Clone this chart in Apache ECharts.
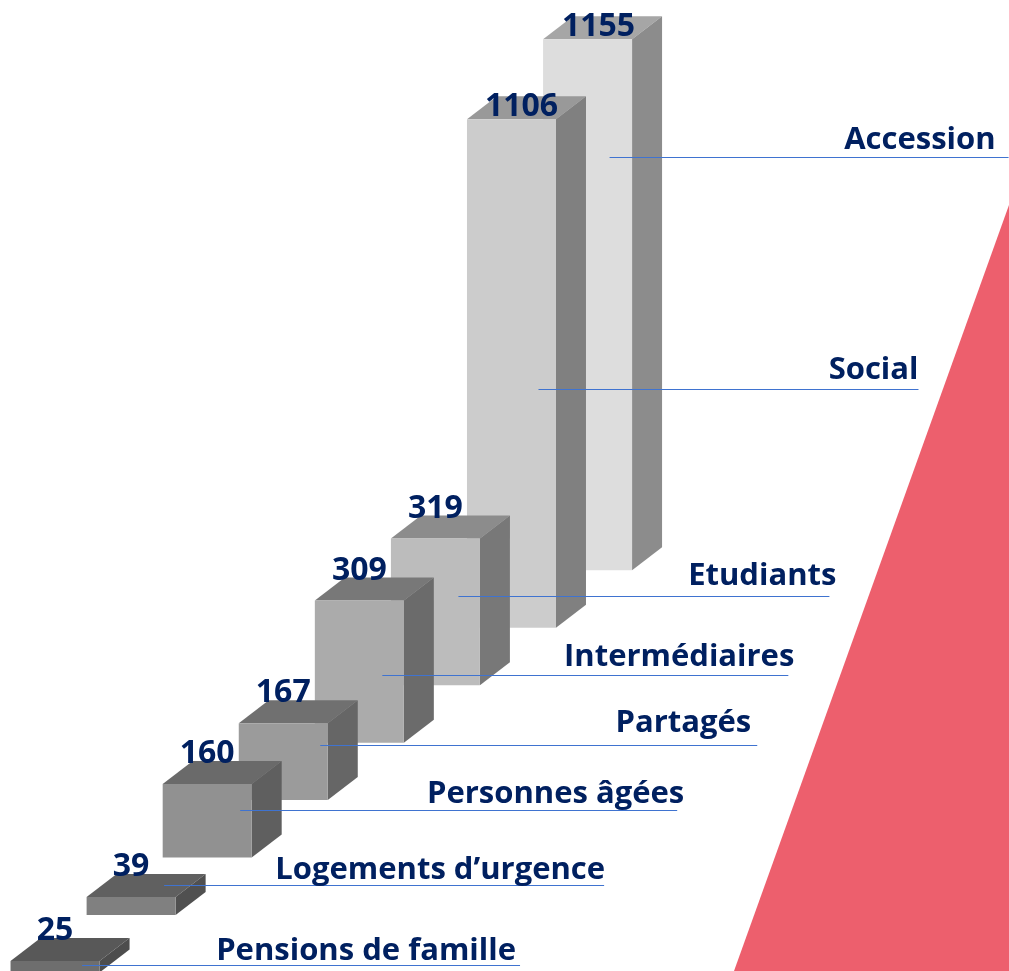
<!DOCTYPE html>
<html><head><meta charset="utf-8">
<style>html,body{margin:0;padding:0;background:#fff}#c{width:1009px;height:971px}</style>
<script src="https://cdn.jsdelivr.net/npm/echarts@6/dist/echarts.min.js"></script>
</head><body><div id="c"></div>
<script>
const categories = ['Pensions de famille','Logements d’urgence','Personnes âgées','Partagés','Intermédiaires','Etudiants','Social','Accession'];
const values = [25,39,160,167,309,319,1106,1155];
// Palette per bar
const frontColors = ['#6e6e6e','#808080','#919191','#9b9b9b','#ababab','#bcbcbc','#cccccc','#dddddd'];
const topColors   = ['#585858','#606060','#6a6a6a','#707070','#787878','#8c8c8c','#999999','#a6a6a6'];
const sideColors  = ['#4d4d4d','#505050','#5f5f5f','#666666','#6b6b6b','#787878','#808080','#8c8c8c'];
// Layout (not data): perspective and annotation placement
const FLOOR_START = -3.3, FLOOR_STEP = 125, BAR_W = 89, DEPTH_X = 30, DEPTH_Y = 23;
const leaderLevels = [13,187,350,492,644,816,1266,1771];      // y-axis level of each leader line
const leaderStart  = [27,33,33,37,23,23,27,22];               // px from band centre
const leaderEnd    = [465,473,470,474,429,394,407,421];       // px from band centre
const labelRight   = [461,474,477,468,435,401,407,408];       // px from band centre
const labelRaise   = [4,5,6,12,8,10,9,7];                     // baseline above leader line, px
const valueShift   = [[0,-19],[0,-19],[0,-19],[0,-19],[0,-19],[0,-19],[10,-1],[11,-1]];
const BASE_DESC = 5;                                          // text box bottom below baseline, px
const TEXT_COLOR = '#002060', LINE_COLOR = '#3f73d0', FONT = '"Open Sans"';

const chart = echarts.init(document.getElementById('c'));
const idx = categories.map((_, i) => i);
chart.setOption({
  animation: false,
  backgroundColor: '#fff',
  grid: {left: 17, width: 608.6, top: 5.6, bottom: 0},
  xAxis: {type: 'category', data: categories, show: false},
  yAxis: {type: 'value', min: 0, max: 2100, interval: 300, show: false},
  graphic: [{type: 'polygon', z: 0, silent: true,
    shape: {points: [[1009,205],[1009,971],[734,971]]}, style: {fill: '#ed5f6d'}}],
  series: [{
    type: 'custom', z: 2, silent: true, clip: false,
    data: idx.map(i => [i, values[i]]),
    encode: {x: 0, y: 1},
    renderItem(params, api) {
      const i = api.value(0), v = api.value(1), floor = FLOOR_START + i * FLOOR_STEP;
      const b = api.coord([i, floor]), t = api.coord([i, floor + v]);
      const l = b[0] - BAR_W / 2, r = b[0] + BAR_W / 2, z2 = 10 + (categories.length - i);
      return {type: 'group', children: [
        {type: 'polygon', z2, shape: {points: [[l,t[1]],[l+DEPTH_X,t[1]-DEPTH_Y],[r+DEPTH_X,t[1]-DEPTH_Y],[r,t[1]]]}, style: {fill: topColors[i]}},
        {type: 'polygon', z2, shape: {points: [[r,t[1]],[r+DEPTH_X,t[1]-DEPTH_Y],[r+DEPTH_X,b[1]-DEPTH_Y],[r,b[1]]]}, style: {fill: sideColors[i]}},
        {type: 'polygon', z2, shape: {points: [[l,t[1]],[r,t[1]],[r,b[1]],[l,b[1]]]}, style: {fill: frontColors[i]}}
      ]};
    }
  },{
    type: 'custom', z: 3, silent: true, clip: false,
    data: idx.map(i => [i, values[i], leaderLevels[i]]),
    encode: {x: 0, y: 2},
    renderItem(params, api) {
      const i = api.value(0), v = api.value(1), floor = FLOOR_START + i * FLOOR_STEP;
      const t = api.coord([i, floor + v]), c = api.coord([i, api.value(2)]);
      const y = Math.round(c[1]) + 0.5;
      return {type: 'group', children: [
        {type: 'line', z2: 50, shape: {x1: c[0]+leaderStart[i], y1: y, x2: c[0]+leaderEnd[i], y2: y}, style: {stroke: LINE_COLOR, lineWidth: 1}},
        {type: 'text', z2: 60, x: c[0]+labelRight[i], y: y-labelRaise[i]+BASE_DESC, style: {text: categories[i], fill: TEXT_COLOR, font: 'bold 31px '+FONT, textAlign: 'right', textVerticalAlign: 'bottom'}},
        {type: 'text', z2: 60, x: t[0]+valueShift[i][0], y: t[1]+valueShift[i][1]+BASE_DESC, style: {text: String(v), fill: TEXT_COLOR, font: 'bold 32px '+FONT, textAlign: 'center', textVerticalAlign: 'bottom'}}
      ]};
    }
  }]
});
</script></body></html>
